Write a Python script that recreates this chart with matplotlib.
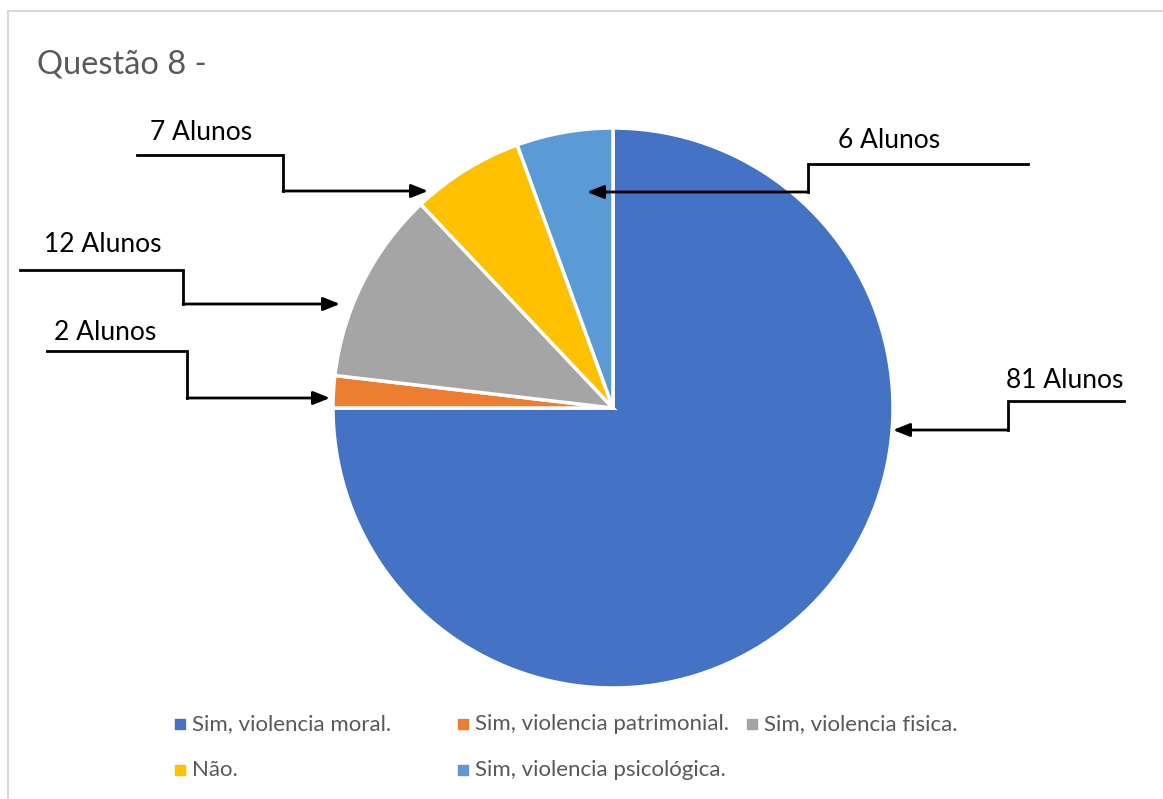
import matplotlib.pyplot as plt
from matplotlib.patches import Rectangle

categorias = ['Sim, violencia moral.', 'Sim, violencia patrimonial.',
              'Sim, violencia fisica.', 'Não.', 'Sim, violencia psicológica.']
alunos = [81, 2, 12, 7, 6]
cores = ['#4472C4', '#ED7D31', '#A5A5A5', '#FFC000', '#5B9BD5']

plt.rcParams['font.family'] = ['Lato', 'DejaVu Sans']

W, H = 1163, 799
fig = plt.figure(figsize=(W / 100, H / 100), dpi=100)
ax = fig.add_axes([0, 0, 1, 1])

def yy(y):
    # coordenadas medidas de cima para baixo
    return H - y

# moldura do gráfico
ax.add_patch(Rectangle((8, yy(1200)), 1300, 1189, fill=False,
                       edgecolor='#D9D9D9', lw=1.5))

ax.text(37, yy(64), 'Questão 8 -', fontsize=23.5, color='#595959',
        va='center', ha='left')

ax.pie(alunos, colors=cores, startangle=90, counterclock=False,
       center=(613, yy(408)), radius=280,
       wedgeprops=dict(edgecolor='white', linewidth=2.5))
ax.set_xlim(0, W)
ax.set_ylim(0, H)
ax.set_aspect('equal')
ax.axis('off')

# rótulos com linhas em cotovelo: (texto x, texto y, linha inicio x, y1, quebra x, y2, ponta x)
callouts = {
    3: (201, 133, 137, 155, 283, 191, 428),
    2: (103, 244, 20, 270, 183, 304, 340),
    1: (105, 332, 47, 351, 187, 398, 330),
    4: (889, 141, 1028, 164, 808, 192, 587),
    0: (1065, 380, 1124, 401, 1008, 430, 893),
}
for i, (tx, ty, x0, y1, xb, y2, xt) in callouts.items():
    ax.text(tx, yy(ty), f'{alunos[i]} Alunos', fontsize=19, color='black',
            ha='center', va='center')
    ax.plot([x0, xb, xb], [yy(y1), yy(y1), yy(y2)], color='black', lw=2,
            solid_joinstyle='miter')
    ax.annotate('', xy=(xt, yy(y2)), xytext=(xb, yy(y2)),
                arrowprops=dict(arrowstyle='-|>,head_length=1.0,head_width=0.4',
                                color='black', lw=2, shrinkA=0, shrinkB=0))

# legenda
pos_leg = [(180, 724), (463, 724), (752, 724), (180, 770), (463, 770)]
for (lx, ly), nome, cor in zip(pos_leg, categorias, cores):
    ax.scatter([lx], [yy(ly)], marker='s', s=45, color=cor)
    ax.text(lx + 12, yy(ly), nome, fontsize=16, color='#595959',
            ha='left', va='center')

fig.savefig('out.png', dpi=100)
